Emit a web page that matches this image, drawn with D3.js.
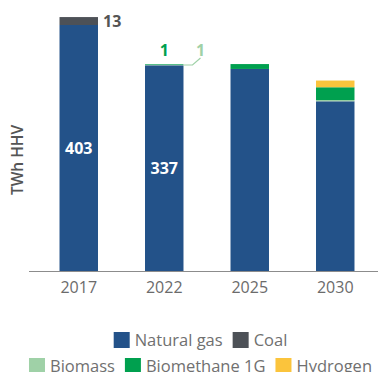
<!DOCTYPE html>
<html>
<head>
<meta charset="utf-8">
<script src="https://cdn.jsdelivr.net/npm/d3@7"></script>
<style>
  html, body { margin: 0; padding: 0; background: #fff; }
  svg { display: block; font-family: "Open Sans", "Noto Sans", sans-serif; }
</style>
</head>
<body>
<svg id="chart" width="378" height="372"></svg>
<script>
// Gas supply by source, TWh HHV
const years = ["2017", "2022", "2025", "2030"];
const seriesNames = ["Natural gas", "Coal", "Biomass", "Biomethane 1G", "Hydrogen"];
const naturalGas = [403, 337, 331, 278];
const coal = [13, 0, 0, 0];
const biomass = [0, 1, 0, 2];
const biomethane = [0, 1, 8, 21];
const hydrogen = [0, 0, 0, 11];
const colors = ["#235289", "#4d5157", "#9fd1a7", "#00a04f", "#fbc43c"];

const rows = years.map((y, i) => ({
  year: y,
  "Natural gas": naturalGas[i],
  "Coal": coal[i],
  "Biomass": biomass[i],
  "Biomethane 1G": biomethane[i],
  "Hydrogen": hydrogen[i]
}));

const svg = d3.select("#chart");

const x = d3.scaleBand().domain(years).range([36, 378]).paddingInner(0.55).paddingOuter(0.275);
const y = d3.scaleLinear().domain([0, 403]).range([271, 25]);
const color = d3.scaleOrdinal().domain(seriesNames).range(colors);

const stacked = d3.stack().keys(seriesNames)(rows);

svg.append("g")
  .selectAll("g")
  .data(stacked)
  .join("g")
  .attr("fill", d => color(d.key))
  .selectAll("rect")
  .data(d => d)
  .join("rect")
  .attr("x", d => x(d.data.year))
  .attr("width", x.bandwidth())
  .attr("y", d => y(d[1]))
  .attr("height", d => y(d[0]) - y(d[1]));

// baseline axis
const xAxis = svg.append("g")
  .attr("transform", "translate(0,271)")
  .call(d3.axisBottom(x).tickSize(0).tickPadding(11));
xAxis.select(".domain").attr("d", "M29,0.5H378").attr("stroke", "#8c8c8c").attr("stroke-width", 1.2);
xAxis.selectAll("text")
  .attr("font-family", "\"Open Sans\", sans-serif")
  .attr("font-size", 16)
  .attr("fill", "#6b6b6b");

// y-axis title
svg.append("text")
  .attr("transform", "translate(23,160) rotate(-90)")
  .attr("text-anchor", "middle")
  .attr("font-size", 15.5)
  .attr("font-weight", 600)
  .attr("fill", "#555")
  .text("TWh HHV");

// value labels
const cx = yr => x(yr) + x.bandwidth() / 2;
const mid = (lo, hi) => (y(lo) + y(hi)) / 2;

svg.append("text")
  .attr("x", cx("2017")).attr("y", mid(0, naturalGas[0]))
  .attr("dy", "0.35em").attr("text-anchor", "middle")
  .attr("font-size", 16).attr("font-weight", "bold").attr("fill", "#fff")
  .text(naturalGas[0]);

svg.append("text")
  .attr("x", cx("2022")).attr("y", mid(0, naturalGas[1]))
  .attr("dy", "0.35em").attr("text-anchor", "middle")
  .attr("font-size", 16).attr("font-weight", "bold").attr("fill", "#fff")
  .text(naturalGas[1]);

svg.append("text")
  .attr("x", x("2017") + x.bandwidth() + 5)
  .attr("y", mid(naturalGas[0], naturalGas[0] + coal[0]))
  .attr("dy", "0.35em")
  .attr("font-size", 16).attr("font-weight", "bold").attr("fill", "#555")
  .text(coal[0]);

const top22 = naturalGas[1] + biomass[1] + biomethane[1];
svg.append("text")
  .attr("x", cx("2022")).attr("y", y(top22) - 8)
  .attr("text-anchor", "middle")
  .attr("font-size", 16).attr("font-weight", "bold").attr("fill", color("Biomethane 1G"))
  .text(biomethane[1]);

// leader line for the biomass sliver
const ly = y(naturalGas[1] + biomass[1] / 2);
const rx = x("2022") + x.bandwidth();
svg.append("path")
  .attr("d", `M${rx},${ly}H${rx + 9}L${rx + 17},${ly - 7}`)
  .attr("fill", "none").attr("stroke", color("Biomass")).attr("stroke-width", 1.2);
svg.append("text")
  .attr("x", rx + 17).attr("y", y(top22) - 8)
  .attr("text-anchor", "middle")
  .attr("font-size", 16).attr("font-weight", "bold").attr("fill", color("Biomass"))
  .text(biomass[1]);

// legend
const legendRows = [
  { items: ["Natural gas", "Coal"], y: 332 },
  { items: ["Biomass", "Biomethane 1G", "Hydrogen"], y: 358 }
];
legendRows.forEach(row => {
  const g = svg.append("g");
  let cursor = 0;
  row.items.forEach(name => {
    const item = g.append("g").attr("transform", `translate(${cursor},0)`);
    item.append("rect").attr("width", 16).attr("height", 16).attr("fill", color(name));
    const t = item.append("text")
      .attr("x", 21).attr("y", 8).attr("dy", "0.35em")
      .attr("font-size", 16.5).attr("fill", "#707070")
      .text(name);
    cursor += 21 + t.node().getComputedTextLength() + 10;
  });
  const width = cursor - 10;
  g.attr("transform", `translate(${(378 + 23 - width) / 2},${row.y})`);
});
</script>
</body>
</html>
